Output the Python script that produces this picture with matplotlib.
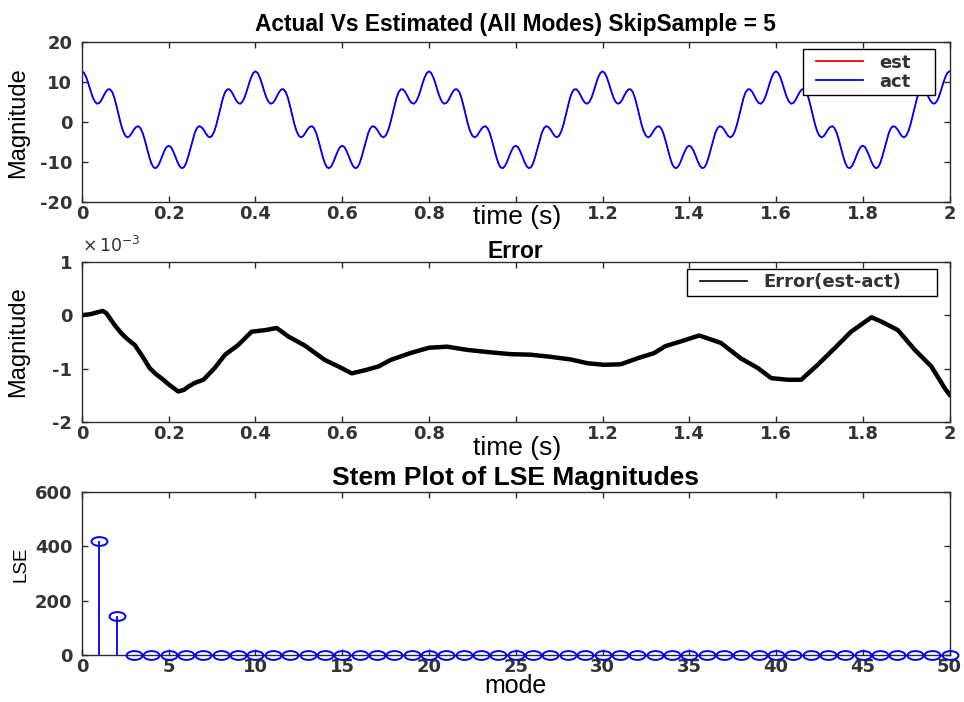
import matplotlib.pyplot as plt
import numpy as np
from matplotlib.legend_handler import HandlerLine2D
from matplotlib.lines import Line2D
from matplotlib.path import Path
from matplotlib.transforms import Affine2D

plt.rcParams["axes.unicode_minus"] = False

# One 0.4 s cycle of the measured signal, sampled every 5 ms.
act_cycle = [
    12.7, 12.3, 11.2, 9.6, 7.8, 6.2, 5.1, 4.6, 4.8, 5.5,
    6.6, 7.6, 8.2, 8.2, 7.5, 6.0, 3.9, 1.6, -0.6, -2.3,
    -3.4, -3.8, -3.5, -2.7, -1.8, -1.2, -1.0, -1.5, -2.7, -4.5,
    -6.6, -8.6, -10.3, -11.3, -11.5, -11.0, -9.9, -8.5, -7.2, -6.2,
    -5.9, -6.2, -7.2, -8.5, -9.9, -11.0, -11.5, -11.3, -10.3, -8.6,
    -6.6, -4.5, -2.7, -1.5, -1.0, -1.2, -1.8, -2.7, -3.5, -3.8,
    -3.4, -2.3, -0.6, 1.6, 3.9, 6.0, 7.5, 8.2, 8.2, 7.6,
    6.6, 5.5, 4.8, 4.6, 5.1, 6.2, 7.8, 9.6, 11.2, 12.3,
]
n_cycles = 5

# Estimation error (est - act), in units of 1e-3.
err_t = [
    0.0, 0.02, 0.048, 0.056, 0.075, 0.091, 0.105, 0.122, 0.14, 0.156,
    0.17, 0.183, 0.202, 0.222, 0.235, 0.245, 0.26, 0.28, 0.306, 0.33,
    0.36, 0.391, 0.422, 0.449, 0.476, 0.514, 0.56, 0.591, 0.622, 0.653,
    0.684, 0.711, 0.757, 0.8, 0.842, 0.888, 0.934, 0.988, 1.034, 1.08,
    1.127, 1.165, 1.203, 1.242, 1.28, 1.319, 1.345, 1.381, 1.423, 1.473,
    1.519, 1.558, 1.589, 1.627, 1.658, 1.696, 1.735, 1.773, 1.82, 1.843,
    1.881, 1.92, 1.958, 1.989, 2.0,
]
err_milli = [
    0.0, 0.02, 0.08, 0.04, -0.18, -0.34, -0.45, -0.56, -0.78, -0.99,
    -1.1, -1.18, -1.31, -1.43, -1.40, -1.34, -1.27, -1.21, -0.99, -0.74,
    -0.56, -0.31, -0.28, -0.24, -0.40, -0.57, -0.84, -0.96, -1.09, -1.03,
    -0.96, -0.84, -0.71, -0.61, -0.59, -0.65, -0.69, -0.73, -0.74, -0.78,
    -0.83, -0.90, -0.93, -0.92, -0.81, -0.71, -0.58, -0.49, -0.38, -0.52,
    -0.81, -0.99, -1.18, -1.21, -1.21, -0.93, -0.62, -0.31, -0.04, -0.12,
    -0.28, -0.65, -0.96, -1.37, -1.49,
]

# Least-squares magnitude per mode.
modes = list(range(1, 51))
lse = [420, 145] + [0] * 48

time_ticks = [0, 0.2, 0.4, 0.6, 0.8, 1.0, 1.2, 1.4, 1.6, 1.8, 2.0]
time_labels = ["0", "0.2", "0.4", "0.6", "0.8", "", "1.2", "1.4", "1.6", "1.8", "2"]

act = np.append(np.tile(act_cycle, n_cycles), act_cycle[0])
est = act.copy()
t = np.linspace(0, 2, act.size)

TICK_FAMILY = "DejaVu Sans"
TICK_COLOR = "#333333"
TICK_SIZE = 13
LABEL_FONT = "Liberation Sans"


def style_axes(ax):
    for spine in ax.spines.values():
        spine.set_color("#2b2b2b")
        spine.set_linewidth(1.0)
    ax.tick_params(direction="in", top=True, right=True, length=4, width=1,
                   color="#2b2b2b", labelcolor=TICK_COLOR, pad=2)
    ax.tick_params(axis="y", pad=7)
    for lab in ax.get_xticklabels() + ax.get_yticklabels():
        lab.set_fontfamily(TICK_FAMILY)
        lab.set_fontweight("bold")
        lab.set_fontsize(TICK_SIZE)


def boxed_legend(ax, handles, labels, x0, width):
    # Fixed-width legend box hanging 7 px below the top of the axes.
    leg = ax.legend(handles, labels, loc="upper left",
                    bbox_to_anchor=(x0, 0.0, width, 0.956), mode="expand",
                    borderaxespad=0, fancybox=False, framealpha=1,
                    edgecolor="black", handlelength=3.1, handletextpad=0.92,
                    labelspacing=0.05, borderpad=0.25,
                    handler_map={Line2D: HandlerLine2D(xpad=0.5)},
                    prop=dict(family=TICK_FAMILY, weight="bold", size=TICK_SIZE))
    leg.get_frame().set_linewidth(1.0)
    for txt in leg.get_texts():
        txt.set_color(TICK_COLOR)
    return leg


fig = plt.figure(figsize=(9.64, 7.02), dpi=100)
ax1 = fig.add_axes([0.085, 0.712, 0.900, 0.228])
ax2 = fig.add_axes([0.085, 0.399, 0.900, 0.228])
ax3 = fig.add_axes([0.085, 0.067, 0.900, 0.232])

# Actual vs estimated signal (est sits underneath act)
ax1.plot(t, est, color="#ff0000", lw=0.8)
ax1.plot(t, act, color="#0000ff", lw=1.3)
ax1.set_xlim(0, 2)
ax1.set_ylim(-20, 20)
ax1.set_xticks(time_ticks, time_labels)
ax1.set_yticks([-20, -10, 0, 10, 20])
style_axes(ax1)
ax1.set_title("Actual Vs Estimated (All Modes) SkipSample = 5",
              fontfamily=LABEL_FONT, fontweight="bold", fontsize=16.4, pad=8)
ax1.set_xlabel("time (s)", fontfamily=LABEL_FONT, fontsize=19, va="center")
ax1.xaxis.set_label_coords(0.502, -0.09)
ax1.set_ylabel("Magnitude", fontfamily=LABEL_FONT, fontsize=17)
ax1.yaxis.set_label_coords(-0.061, 0.5)
signal_handles = [Line2D([], [], color="#ff0000", lw=1.3),
                  Line2D([], [], color="#0000ff", lw=1.3)]
boxed_legend(ax1, signal_handles, ["est", "act"], 0.8306, 0.1521)

# Error
ax2.plot(err_t, err_milli, color="black", lw=3.2)
ax2.set_xlim(0, 2)
ax2.set_ylim(-2, 1)
ax2.set_xticks(time_ticks, time_labels)
ax2.set_yticks([-2, -1, 0, 1])
style_axes(ax2)
ax2.set_title("Error", fontfamily=LABEL_FONT, fontweight="bold", fontsize=16.5, pad=3)
ax2.text(0.0, 1.10, r"$\times\,10^{-3}$", transform=ax2.transAxes,
         fontsize=12.5, color="#333333", ha="left", va="center")
ax2.set_xlabel("time (s)", fontfamily=LABEL_FONT, fontsize=19, va="center")
ax2.xaxis.set_label_coords(0.502, -0.16)
ax2.set_ylabel("Magnitude", fontfamily=LABEL_FONT, fontsize=17)
ax2.yaxis.set_label_coords(-0.061, 0.5)
err_handle = Line2D([], [], color="black", lw=1.2)
boxed_legend(ax2, [err_handle], ["Error(est-act)"], 0.697, 0.288)

# Stem plot of LSE per mode
ellipse = Path.unit_circle().transformed(Affine2D().scale(1.0, 0.55))
markerline, stemlines, baseline = ax3.stem(modes, lse, basefmt=" ")
markerline.set_marker(ellipse)
markerline.set_markersize(11.5)
markerline.set_markerfacecolor("none")
markerline.set_markeredgecolor("#0000ff")
markerline.set_markeredgewidth(1.4)
markerline.set_clip_on(False)
markerline.set_zorder(5)
stemlines.set_color("#0000ff")
stemlines.set_linewidth(1.3)
ax3.set_xlim(0, 50)
ax3.set_ylim(0, 600)
ax3.set_xticks(range(0, 51, 5))
ax3.set_yticks([0, 200, 400, 600])
style_axes(ax3)
ax3.set_title("Stem Plot of LSE Magnitudes", fontfamily=LABEL_FONT,
              fontweight="bold", fontsize=19, pad=5)
ax3.set_xlabel("mode", fontfamily=LABEL_FONT, fontsize=18, labelpad=-1)
ax3.set_ylabel("LSE", fontfamily=LABEL_FONT, fontsize=13.5)
ax3.yaxis.set_label_coords(-0.061, 0.56)

fig.savefig("out.png", dpi=100)
plt.close(fig)
